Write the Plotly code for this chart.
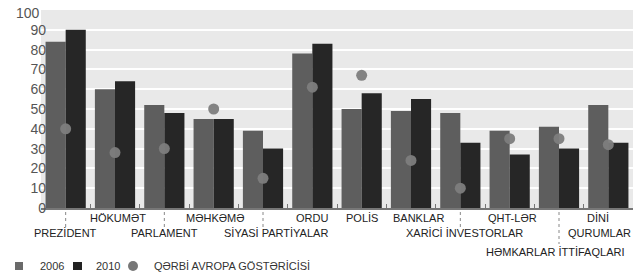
import plotly.graph_objects as go

categories = ["PREZİDENT", "HÖKUMƏT", "PARLAMENT", "MƏHKƏMƏ", "SİYASİ PARTİYALAR",
              "ORDU", "POLİS", "BANKLAR", "XARİCİ İNVESTORLAR", "QHT-LƏR",
              "HƏMKARLAR İTTİFAQLARI", "DİNİ QURUMLAR"]
values_2006 = [84, 60, 52, 45, 39, 78, 50, 49, 48, 39, 41, 52]
values_2010 = [90, 64, 48, 45, 30, 83, 58, 55, 33, 27, 30, 33]
west_europe = [40, 28, 30, 50, 15, 61, 67, 24, 10, 35, 35, 32]
y_ticks = [0, 10, 20, 30, 40, 50, 60, 70, 80, 90]
y_top_label = "100"
series_names = ["2006", "2010", "QƏRBİ AVROPA GÖSTƏRİCİSİ"]
series_colors = ["#5e5e5e", "#262626", "#7d7d7d"]

label_rows = [2, 1, 2, 1, 2, 1, 1, 1, 2, 1, 3, 1]
label_shift = [0, 3, 0, 1, 13, 0, 0, 7, 4, 3, -4, -9]

W, H = 639, 275
ML, MR, MT, MB = 41, 6, 10, 67
PW, PH = W - ML - MR, H - MT - MB


def px(xp):
    return (xp - ML) / PW


def py(yp):
    return (H - MB - yp) / PH


x = list(range(len(categories)))

fig = go.Figure()
fig.add_trace(go.Bar(x=x, y=values_2006, name=series_names[0], marker_color=series_colors[0],
                     marker_line_width=0, showlegend=False))
fig.add_trace(go.Bar(x=x, y=values_2010, name=series_names[1], marker_color=series_colors[1],
                     marker_line_width=0, showlegend=False))
fig.add_trace(go.Scatter(x=x, y=west_europe, name=series_names[2], mode="markers",
                         marker=dict(color=series_colors[2], size=11, opacity=0.95),
                         showlegend=False))

row_y = {1: py(218), 2: py(233), 3: py(252)}
lab_font = dict(size=11, color="#222")
annotations = []
shapes = []
for i, cat in enumerate(categories):
    r = label_rows[i]
    if cat == "DİNİ QURUMLAR":
        annotations.append(dict(x=i, y=row_y[1], xref="x", yref="paper", text="DİNİ",
                                yanchor="middle", showarrow=False, xshift=-10, font=lab_font))
        annotations.append(dict(x=i, y=row_y[2], xref="x", yref="paper", text="QURUMLAR",
                                yanchor="middle", showarrow=False, xshift=-9, font=lab_font))
        continue
    annotations.append(dict(x=i, y=row_y[r], xref="x", yref="paper", text=cat,
                            yanchor="middle", showarrow=False, xshift=label_shift[i],
                            font=lab_font))
    if r > 1:
        shapes.append(dict(type="line", xref="x", yref="paper", x0=i, x1=i,
                           y0=py(212), y1=py(228 if r == 2 else 244),
                           line=dict(color="#888", width=1, dash="dot")))

# top y label (left-aligned like the reference)
annotations.append(dict(x=px(14), y=100, xref="paper", yref="y", text=y_top_label,
                        xanchor="left", yanchor="middle", yshift=-3, showarrow=False,
                        font=dict(size=14, color="#555")))

# manual legend
leg_font = dict(size=11, color="#333")
shapes.append(dict(type="rect", xref="paper", yref="paper", x0=px(15), x1=px(23),
                   y0=py(270), y1=py(262), fillcolor="#6a6a6a", line_width=0))
shapes.append(dict(type="rect", xref="paper", yref="paper", x0=px(73), x1=px(82),
                   y0=py(270), y1=py(262), fillcolor="#222222", line_width=0))
shapes.append(dict(type="circle", xref="paper", yref="paper", x0=px(128), x1=px(138),
                   y0=py(271), y1=py(261), fillcolor="#777777", line_width=0))
for name, xs in zip(series_names, [38, 94, 152]):
    annotations.append(dict(x=px(xs), y=py(266), xref="paper", yref="paper", text=name,
                            xanchor="left", yanchor="middle", showarrow=False, font=leg_font))

fig.update_layout(
    width=W, height=H,
    margin=dict(l=ML, r=MR, t=MT, b=MB, autoexpand=False),
    paper_bgcolor="white", plot_bgcolor="#e9e9e9",
    barmode="group", bargap=0.185, bargroupgap=0,
    font=dict(family="Liberation Sans, Arial, sans-serif", color="#444"),
    showlegend=False,
    annotations=annotations,
    shapes=shapes,
)
fig.update_xaxes(range=[-0.5, len(categories) - 0.5],
                 tickvals=[i - 0.5 for i in range(len(categories) + 1)],
                 ticktext=["" for _ in range(len(categories) + 1)],
                 ticks="inside", ticklen=4, tickcolor="#777", tickwidth=1,
                 showgrid=False, showline=True, linecolor="#777", linewidth=1.5,
                 zeroline=False, automargin=False)
fig.update_yaxes(range=[0, 100], tickvals=y_ticks, showgrid=True, gridcolor="white",
                 gridwidth=2, zeroline=False, showline=False, automargin=False,
                 tickfont=dict(size=14, color="#555"), ticklabelstandoff=-6)

fig.write_html("out.html", config={"displayModeBar": False},
               post_script="document.body.style.margin='0';document.body.style.padding='0';"
                           "document.body.style.overflow='hidden';")
